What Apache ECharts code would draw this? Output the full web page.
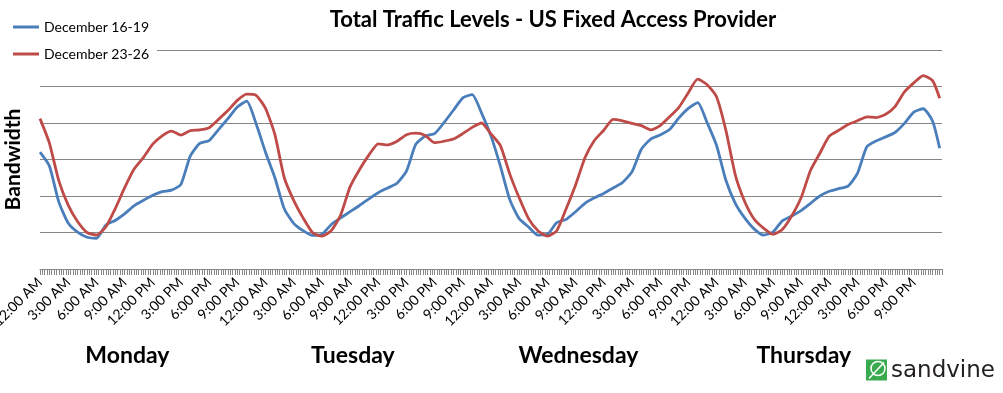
<!DOCTYPE html>
<html><head><meta charset="utf-8">
<script src="https://cdn.jsdelivr.net/npm/echarts@6/dist/echarts.min.js"></script>
<style>html,body{margin:0;padding:0;background:#fff}#c{width:1003px;height:393px}</style>
</head><body><div id="c"></div>
<script>
// hours since Monday 12:00 AM
const hours = [0,1,2,3,4,5,6,7,8,9,10,11,12,13,14,15,16,17,18,19,20,21,22,23,
  24,25,26,27,28,29,30,31,32,33,34,35,36,37,38,39,40,41,42,43,44,45,46,47,
  48,49,50,51,52,53,54,55,56,57,58,59,60,61,62,63,64,65,66,67,68,69,70,71,
  72,73,74,75,76,77,78,79,80,81,82,83,84,85,86,87,88,89,90,91,92,93,94,95,95.75];
const dec16_19 = [3.2,2.82,1.84,1.26,1.01,0.87,0.84,1.2,1.33,1.51,1.73,1.88,2.02,2.12,2.16,2.32,3.1,3.44,3.52,3.82,4.12,4.44,4.6,3.98,
  3.2,2.5,1.65,1.25,1.05,0.92,0.95,1.22,1.4,1.57,1.74,1.92,2.09,2.22,2.35,2.68,3.42,3.64,3.71,4.01,4.35,4.69,4.78,4.27,
  3.64,2.82,1.9,1.38,1.15,0.93,0.95,1.27,1.36,1.57,1.8,1.95,2.07,2.22,2.37,2.66,3.28,3.56,3.67,3.82,4.14,4.4,4.56,4.01,
  3.39,2.43,1.8,1.4,1.1,0.93,1.01,1.32,1.45,1.6,1.8,2.0,2.13,2.2,2.27,2.62,3.35,3.51,3.62,3.74,3.99,4.3,4.39,4.05,3.31];
const dec23_26 = [4.12,3.45,2.42,1.75,1.3,1.0,0.93,1.15,1.65,2.22,2.73,3.05,3.42,3.65,3.78,3.67,3.79,3.81,3.87,4.1,4.34,4.62,4.79,4.76,
  4.4,3.68,2.5,1.88,1.4,1.0,0.9,1.05,1.48,2.25,2.72,3.12,3.43,3.4,3.5,3.68,3.72,3.66,3.46,3.5,3.56,3.71,3.88,4.0,
  3.7,3.38,2.6,1.95,1.38,1.05,0.9,1.05,1.65,2.3,3.05,3.52,3.8,4.1,4.06,3.99,3.93,3.81,3.93,4.17,4.43,4.83,5.2,5.05,
  4.72,3.8,2.58,1.85,1.37,1.12,0.95,1.08,1.45,1.95,2.7,3.17,3.64,3.8,3.96,4.06,4.17,4.15,4.24,4.45,4.85,5.1,5.3,5.16,4.68];
const timeLabels = ['12:00 AM','3:00 AM','6:00 AM','9:00 AM','12:00 PM','3:00 PM','6:00 PM','9:00 PM'];
const dayNames = ['Monday','Tuesday','Wednesday','Thursday'];
const seriesNames = ['December 16-19','December 23-26'];

const F = 'Lato, "Open Sans", sans-serif';
const GRAY = '#878787';
const chart = echarts.init(document.getElementById('c'), null, {renderer:'canvas'});
const pairs = arr => hours.map((h,i)=>[h, arr[i]]);
chart.setOption({
  animation:false,
  backgroundColor:'#fff',
  title:{text:'Total Traffic Levels - US Fixed Access Provider', left:548, top:4, textAlign:'center',
    textStyle:{fontFamily:F, fontWeight:'bold', fontSize:22, color:'#000'}},
  legend:{orient:'vertical', left:8, top:15, itemGap:13, itemWidth:26, itemHeight:3, icon:'rect',
    backgroundColor:'#fff', padding:[5,8,5,5],
    textStyle:{fontFamily:F, fontSize:14, color:'#000'}, data:seriesNames},
  grid:{left:40, right:61, top:50, bottom:124, containLabel:false, outerBoundsMode:'none'},
  xAxis:{type:'value', min:0, max:96, interval:3,
    axisLine:{show:true, lineStyle:{color:GRAY, width:1}},
    axisTick:{show:true, length:6, lineStyle:{color:GRAY}},
    minorTick:{show:true, splitNumber:12, length:6, lineStyle:{color:GRAY}},
    splitLine:{show:false},
    axisLabel:{rotate:45, margin:11, fontFamily:F, fontSize:14, color:'#000',
      showMaxLabel:false,
      formatter:v=> v>=96 ? '' : timeLabels[Math.round(v/3)%8]}},
  yAxis:{type:'value', min:0, max:6, interval:1,
    name:'Bandwidth', nameLocation:'middle', nameGap:16, nameRotate:90,
    nameTextStyle:{fontFamily:F, fontWeight:'bold', fontSize:21, color:'#000'},
    axisLine:{show:false}, axisTick:{show:false}, axisLabel:{show:false},
    splitLine:{show:true, lineStyle:{color:GRAY, width:1}}},
  series:[
    {name:seriesNames[0], type:'line', data:pairs(dec16_19), symbol:'none', smooth:0.2,
      lineStyle:{color:'#4A7EBB', width:2.8}, itemStyle:{color:'#4A7EBB'}, z:2},
    {name:seriesNames[1], type:'line', data:pairs(dec23_26), symbol:'none', smooth:0.2,
      lineStyle:{color:'#BE4B48', width:2.8}, itemStyle:{color:'#BE4B48'}, z:3}
  ]
});
// day labels under each day's time labels
const dayEls = dayNames.map((d,i)=>({type:'text', x:chart.convertToPixel({xAxisIndex:0}, 24*i+9.3), y:356,
  style:{text:d, fontFamily:F, fontWeight:'bold', fontSize:23, fill:'#000', textAlign:'center', textVerticalAlign:'middle'}}));
// sandvine logo
const logo = {type:'group', left:866, top:359, children:[
  {type:'rect', shape:{x:0,y:0,width:21,height:21}, style:{fill:'#3AAA4F'}},
  {type:'circle', shape:{cx:12,cy:9,r:7}, style:{fill:'none', stroke:'#fff', lineWidth:1.5}},
  {type:'line', shape:{x1:3,y1:19,x2:18,y2:3}, style:{stroke:'#fff', lineWidth:1.5}},
  {type:'text', x:25, y:23, style:{text:'sandvine', fontFamily:'"DejaVu Sans", Verdana, sans-serif', fontSize:23, fill:'#231F20', textVerticalAlign:'bottom'}}
]};
chart.setOption({graphic:[...dayEls, logo]});
</script></body></html>
